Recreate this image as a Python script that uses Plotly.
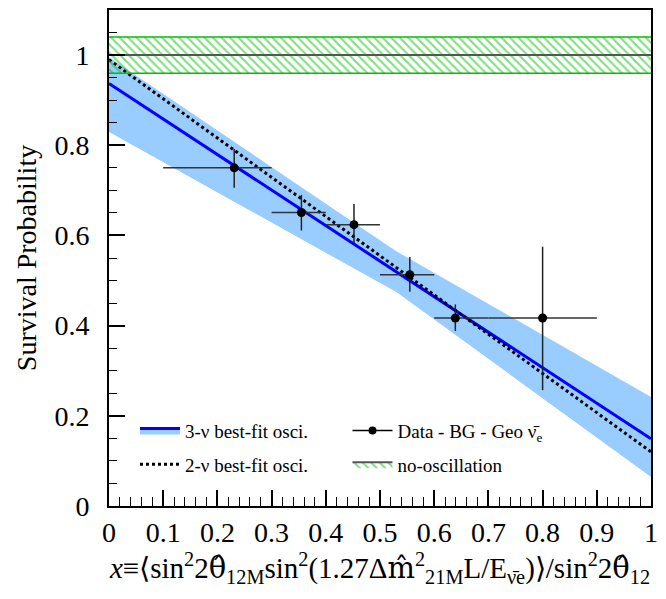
import plotly.graph_objects as go

# ---- data ----
data_x = [0.231, 0.355, 0.452, 0.555, 0.639, 0.800]
data_y = [0.750, 0.651, 0.624, 0.513, 0.417, 0.417]
data_x_lo = [0.10, 0.30, 0.40, 0.50, 0.60, 0.70]
data_x_hi = [0.30, 0.40, 0.50, 0.60, 0.70, 0.90]
data_y_lo = [0.706, 0.611, 0.583, 0.475, 0.388, 0.257]
data_y_hi = [0.792, 0.690, 0.670, 0.552, 0.447, 0.575]

fit_x = [0.0, 1.0]
fit3_y = [0.937, 0.149]
fit2_y = [0.990, 0.120]

band_x = [0.0, 0.53, 1.0]
band_upper = [0.995, 0.565, 0.242]
band_lower = [0.830, 0.475, 0.065]

noosc_x = [0.0, 1.0]
noosc_center = 1.0
noosc_halfwidth = 0.04

x_ticks = [0, 0.1, 0.2, 0.3, 0.4, 0.5, 0.6, 0.7, 0.8, 0.9, 1]
y_ticks = [0, 0.2, 0.4, 0.6, 0.8, 1]

SERIF = "Liberation Serif"
BAND = "#99ccff"
GREEN = "#00c000"

fig = go.Figure()

# 3-nu band
fig.add_trace(go.Scatter(x=band_x, y=band_upper, mode="lines", line=dict(width=0),
                         showlegend=False, hoverinfo="skip"))
fig.add_trace(go.Scatter(x=band_x, y=band_lower, mode="lines", line=dict(width=0),
                         fill="tonexty", fillcolor=BAND, showlegend=False, hoverinfo="skip"))
# 3-nu best fit line (fill to previous keeps legend swatch with band colour)
fig.add_trace(go.Scatter(x=fit_x, y=fit3_y, mode="lines", line=dict(color="#0000ff", width=3),
                         fill="tonexty", fillcolor=BAND,
                         name="3-ν best-fit osci.", legend="legend", legendgroup="a", legendrank=1))
# 2-nu best fit
fig.add_trace(go.Scatter(x=fit_x, y=fit2_y, mode="lines", line=dict(color="black", width=3, dash="dot"),
                         name="2-ν best-fit osci.", legend="legend", legendgroup="b", legendrank=2))

# no-oscillation band
lo = [noosc_center - noosc_halfwidth] * len(noosc_x)
mid = [noosc_center] * len(noosc_x)
hi = [noosc_center + noosc_halfwidth] * len(noosc_x)
pat = dict(shape="\\", fgcolor=GREEN, bgcolor="rgba(0,0,0,0)", size=6, solidity=0.35)
fig.add_trace(go.Scatter(x=noosc_x, y=lo, mode="lines", line=dict(color=GREEN, width=1.5),
                         showlegend=False, hoverinfo="skip"))
fig.add_trace(go.Scatter(x=noosc_x, y=mid, mode="lines", line=dict(color="#555555", width=2),
                         fill="tonexty", fillpattern=pat, fillcolor="rgba(0,0,0,0)",
                         name="no-oscillation", legend="legend2", legendgroup="d", legendrank=4))
fig.add_trace(go.Scatter(x=noosc_x, y=hi, mode="lines", line=dict(color=GREEN, width=1.5),
                         fill="tonexty", fillpattern=pat, fillcolor="rgba(0,0,0,0)",
                         showlegend=False, hoverinfo="skip"))

# data points
ex_plus = [h - c for h, c in zip(data_x_hi, data_x)]
ex_minus = [c - l for c, l in zip(data_x, data_x_lo)]
ey_plus = [h - c for h, c in zip(data_y_hi, data_y)]
ey_minus = [c - l for c, l in zip(data_y, data_y_lo)]
fig.add_trace(go.Scatter(
    x=data_x, y=data_y, mode="markers",
    marker=dict(color="black", size=9),
    error_x=dict(type="data", symmetric=False, array=ex_plus, arrayminus=ex_minus,
                 color="#333333", thickness=1.5, width=0),
    error_y=dict(type="data", symmetric=False, array=ey_plus, arrayminus=ey_minus,
                 color="#222222", thickness=1.5, width=0),
    showlegend=False))
# legend proxy for data
fig.add_trace(go.Scatter(x=[None], y=[None], mode="lines+markers",
                         line=dict(color="black", width=1.5), marker=dict(color="black", size=8),
                         name="Data - BG - Geo ν̄<sub>e</sub>", legend="legend2",
                         legendgroup="c", legendrank=3))

axis_common = dict(
    showgrid=False, zeroline=False, showline=True, linecolor="black", linewidth=2,
    mirror=True, ticks="inside", tickcolor="black", tickwidth=1.5,
    tickfont=dict(family=SERIF, size=28, color="black"),
)

th = "<span style='font-family:DejaVu Serif'>θ̂</span>"
mh = "<span style='font-family:DejaVu Serif'>m̂</span>"
xtitle = ("<i>x</i>≡⟨sin<sup>2</sup>2" + th + "<sub>12M</sub>sin<sup>2</sup>(1.27Δ" + mh +
          "<sup>2</sup><sub>21M</sub>L/E<sub>ν̄e</sub>)⟩/sin<sup>2</sup>2" + th + "<sub>12</sub>")

fig.update_xaxes(range=[0, 1], tickvals=x_ticks, ticklen=16, ticklabelstandoff=0,
                 minor=dict(dtick=0.02, ticklen=9, ticks="inside", tickcolor="black", tickwidth=1.2),
                 title=dict(text=xtitle, font=dict(family=SERIF, size=29, color="black"), standoff=6),
                 **axis_common)
fig.update_yaxes(range=[0, 1.1], tickvals=y_ticks, ticklen=16, ticklabelstandoff=12,
                 minor=dict(dtick=0.05, ticklen=8, ticks="inside", tickcolor="black", tickwidth=1.2),
                 title=dict(text="Survival Probability",
                            font=dict(family=SERIF, size=28, color="black"), standoff=10),
                 **axis_common)

legend_common = dict(orientation="v", bgcolor="rgba(0,0,0,0)", borderwidth=0,
                     font=dict(family=SERIF, size=19, color="black"),
                     tracegroupgap=6, itemwidth=40, xanchor="left", yanchor="top")
fig.update_layout(
    width=666, height=599,
    margin=dict(l=109, r=8, t=10, b=93),
    paper_bgcolor="white", plot_bgcolor="white",
    showlegend=True,
    legend=dict(x=0.048, y=0.19, **legend_common),
    legend2=dict(x=0.44, y=0.19, **legend_common),
)

fig.write_html("out.html", config={"displayModeBar": False},
               post_script="document.body.style.margin='0px';")
